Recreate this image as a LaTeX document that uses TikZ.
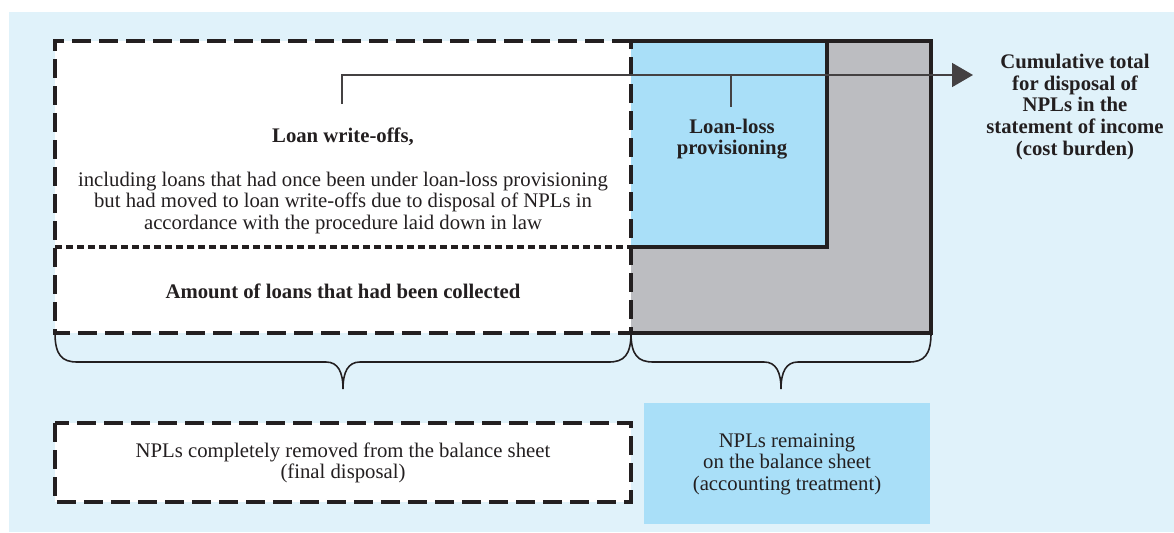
\documentclass[tikz,border=0pt]{standalone}
\usepackage{fontspec}
\setmainfont{Liberation Serif}
\usepackage{xcolor}
\usetikzlibrary{arrows.meta}

\definecolor{bgblue}{HTML}{E0F2FA}
\definecolor{provblue}{HTML}{A9DFF8}
\definecolor{restgray}{HTML}{BCBDC1}
\definecolor{ink}{HTML}{231F20}

\tikzset{
  bigdash/.style={ink, line width=1.8pt, dash pattern=on 3.8mm off 1.6mm},
  smalldash/.style={ink, line width=1.8pt, dash pattern=on 1.3mm off 0.9mm},
  solidbox/.style={ink, line width=1.8pt},
  bracket/.style={ink, line width=0.9pt},
  flow/.style={ink!85, line width=0.9pt},
  lbl/.style={align=center, text=ink, inner sep=0pt,
    font=\fontsize{11.8}{12.3}\selectfont},
  lblbold/.style={lbl, font=\fontsize{11.8}{12.3}\selectfont\bfseries},
}

\begin{document}
\begin{tikzpicture}[x=0.2mm,y=-0.2mm]
  \useasboundingbox (0,0) rectangle (1174,532);
  \fill[bgblue] (9,12) rectangle (1174,532);

  % upper boxes
  \fill[white] (55,41) rectangle (631,333);
  \fill[restgray] (631,41) rectangle (931,333);
  \fill[provblue] (631,41) rectangle (827,247);
  \draw[solidbox] (631,41) -- (931,41) -- (931,333) -- (631,333);
  \draw[solidbox] (631,247) -| (827,41);
  \draw[smalldash] (55,247) -- (631,247);
  \draw[bigdash] (631,41) -- (55,41) -- (55,333) -- (631,333) -- cycle;

  % lower boxes
  \fill[white] (55,423) rectangle (631,502);
  \draw[bigdash] (55,423) rectangle (631,502);
  \fill[provblue] (644,403) rectangle (930,524);

  % braces
  \draw[bracket] (55,333) .. controls (55,355) and (62,362) .. (77,362)
    -- (326,362) .. controls (338,362) and (343,372) .. (343,389)
    .. controls (343,372) and (348,362) .. (360,362)
    -- (609,362) .. controls (624,362) and (631,355) .. (631,333);
  \draw[bracket] (631,333) .. controls (631,355) and (638,362) .. (653,362)
    -- (764,362) .. controls (776,362) and (781,372) .. (781,389)
    .. controls (781,372) and (786,362) .. (798,362)
    -- (909,362) .. controls (924,362) and (931,355) .. (931,333);

  \coordinate (wotick) at (342,104);
  \coordinate (provtop) at (731,75);
  \coordinate (provtick) at (731,107);
  \coordinate (cumtip) at (973,75);

  \node[lblbold] (wo) at (343,137) {Loan write-offs,};
  \node[lbl] (wodetail) at (343,203)
    {including loans that had once been under loan-loss provisioning\\
     but had moved to loan write-offs due to disposal of NPLs in\\
     accordance with the procedure laid down in law};
  \node[lblbold] (coll) at (343,291) {Amount of loans that had been collected};
  \node[lblbold] (prov) at (732,139) {Loan-loss\\provisioning};
  \node[lblbold] (cum) at (1075,107)
    {Cumulative total\\for disposal of\\NPLs in the\\statement of income\\(cost burden)};
  \node[lbl] (removed) at (343,463)
    {NPLs completely removed from the balance sheet\\(final disposal)};
  \node[lbl] (remain) at (787,464)
    {NPLs remaining\\on the balance sheet\\(accounting treatment)};

  \draw[flow, -{Triangle[length=4.2mm,width=4.8mm]}] (wotick) |- (cumtip);
  \draw[flow] (provtop) -- (provtick);
\end{tikzpicture}
\end{document}
